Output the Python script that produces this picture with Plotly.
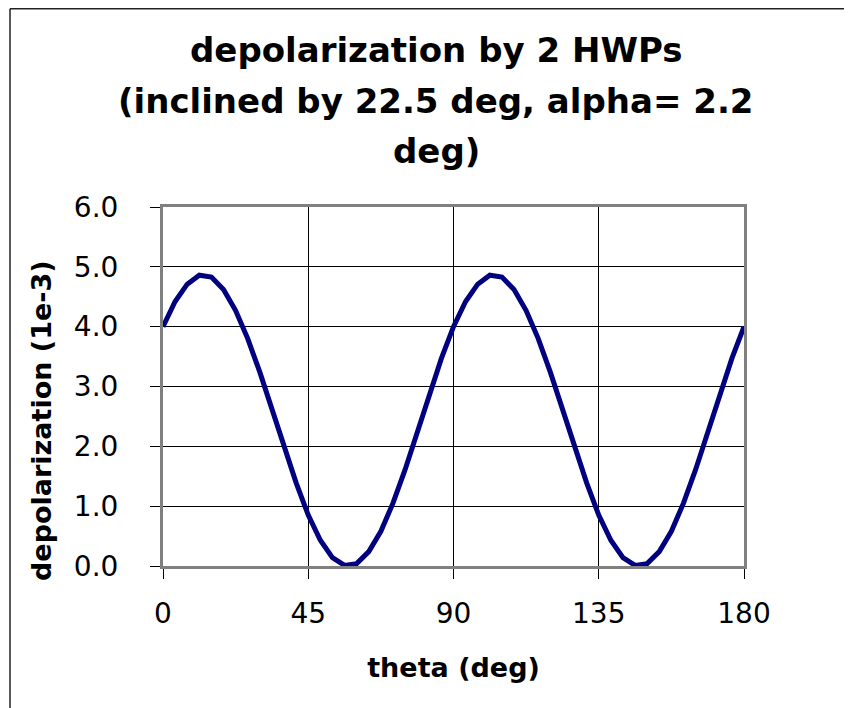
import plotly.graph_objects as go

# ---- data ----
theta = [0, 3.75, 7.5, 11.25, 15, 18.75, 22.5, 26.25, 30, 33.75, 37.5, 41.25,
         45, 48.75, 52.5, 56.25, 60, 63.75, 67.5, 71.25, 75, 78.75, 82.5, 86.25,
         90, 93.75, 97.5, 101.25, 105, 108.75, 112.5, 116.25, 120, 123.75, 127.5, 131.25,
         135, 138.75, 142.5, 146.25, 150, 153.75, 157.5, 161.25, 165, 168.75, 172.5, 176.25,
         180]
depolarization = [4.00, 4.42, 4.71, 4.86, 4.83, 4.62, 4.27, 3.80, 3.24, 2.62, 1.99, 1.39,
                  0.85, 0.43, 0.14, 0.01, 0.04, 0.24, 0.58, 1.05, 1.61, 2.23, 2.86, 3.47,
                  4.00, 4.42, 4.71, 4.86, 4.83, 4.62, 4.27, 3.80, 3.24, 2.62, 1.99, 1.39,
                  0.85, 0.43, 0.14, 0.01, 0.04, 0.24, 0.58, 1.05, 1.61, 2.23, 2.86, 3.47,
                  4.00]
x_ticks = [0, 45, 90, 135, 180]
x_tick_labels = ["0", "45", "90", "135", "180"]
y_ticks = [0, 1, 2, 3, 4, 5, 6]
y_tick_labels = ["0.0", "1.0", "2.0", "3.0", "4.0", "5.0", "6.0"]
title_lines = ["depolarization by 2 HWPs", "(inclined by 22.5 deg, alpha= 2.2", "deg)"]
x_title = "theta (deg)"
y_title = "depolarization (1e-3)"

# ---- layout geometry (page pixels); the page body adds an 8px offset ----
W, H = 852, 708
OFF = 8
FW, FH = W - OFF, H - OFF  # figure reaches the window's right and bottom edges
L, R, T, B = 163, 744, 207, 566
FONT = "DejaVu Sans"


def px(x):
    return (x - L) / (R - L)


def py(y):
    return (B - y) / (B - T)


fig = go.Figure()
fig.add_trace(go.Scatter(
    x=theta, y=depolarization, mode="lines",
    line=dict(color="#000080", width=5),
    showlegend=False, hoverinfo="x+y",
))

annotations = []
for text, yc in zip(title_lines, [50, 101, 151]):
    annotations.append(dict(
        text="<b>%s</b>" % text, x=px(436), y=py(yc), xref="paper", yref="paper",
        xanchor="center", yanchor="middle", showarrow=False,
        font=dict(family=FONT, size=34, color="black"),
    ))
annotations.append(dict(
    text="<b>%s</b>" % y_title, x=px(41), y=py(421), xref="paper", yref="paper",
    xanchor="center", yanchor="middle", showarrow=False, textangle=-90,
    font=dict(family=FONT, size=27, color="black"),
))

frame_top = 8.8
shapes = [
    dict(type="line", xref="paper", yref="paper", x0=px(10), y0=py(frame_top), x1=px(W + 30),
         y1=py(frame_top), line=dict(color="#222222", width=1.5)),
    dict(type="line", xref="paper", yref="paper", x0=px(10), y0=py(frame_top), x1=px(10),
         y1=py(H + 30), line=dict(color="#222222", width=1.5)),
]

fig.update_layout(
    width=FW, height=FH,
    margin=dict(l=L - OFF, r=FW - (R - OFF), t=T - OFF, b=FH - (B - OFF), pad=0),
    paper_bgcolor="white", plot_bgcolor="white",
    font=dict(family=FONT, color="black"),
    annotations=annotations, shapes=shapes,
    xaxis=dict(
        range=[0, 180], tickvals=x_ticks, ticktext=x_tick_labels,
        showgrid=True, gridcolor="black", gridwidth=1,
        showline=True, linecolor="#808080", linewidth=3, mirror=True,
        ticks="outside", ticklen=10, tickcolor="black", tickwidth=1,
        tickfont=dict(family=FONT, size=28, color="black"),
        ticklabelstandoff=10,
        zeroline=False,
        title=dict(text="<b>%s</b>" % x_title, font=dict(family=FONT, size=27, color="black"),
                   standoff=30),
    ),
    yaxis=dict(
        range=[0, 6], tickvals=y_ticks, ticktext=y_tick_labels,
        showgrid=True, gridcolor="black", gridwidth=1,
        showline=True, linecolor="#808080", linewidth=3, mirror=True,
        ticks="outside", ticklen=10, tickcolor="black", tickwidth=1,
        tickfont=dict(family=FONT, size=28, color="black"),
        ticklabelstandoff=26,
        zeroline=False,
    ),
)

fig.write_html("out.html", config={"displayModeBar": False})
